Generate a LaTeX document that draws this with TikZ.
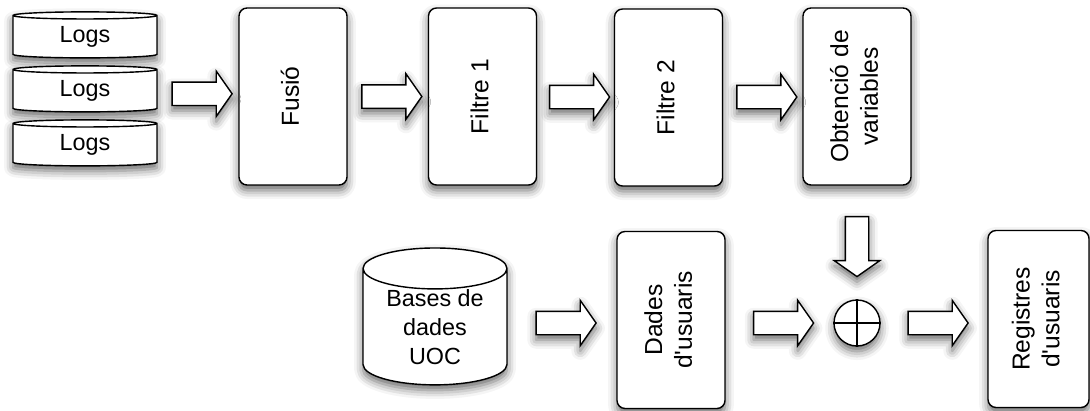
\documentclass[tikz,border=0pt]{standalone}
\usepackage{fontspec}
\setmainfont{Liberation Sans}
\usetikzlibrary{shapes.geometric, shapes.arrows, shadows.blur, calc}

% rotated (bottom to top) text inside a box
\newcommand{\vtext}[1]{\rotatebox{90}{\begin{tabular}{@{}c@{}}#1\end{tabular}}}

\tikzset{
    soft/.style={blur shadow={shadow xshift=0pt, shadow yshift=-3pt, shadow blur radius=5pt, shadow opacity=60}},
    stage/.style={draw, thick, fill=white, rounded corners=0.16cm, minimum width=2.16cm, minimum height=3.54cm, inner sep=0pt, soft},
    disk/.style={cylinder, shape border rotate=90, draw, thick, fill=white, aspect=0.14, minimum width=2.88cm, minimum height=0.92cm, inner sep=0pt, font=\fontsize{13.3}{16.4}\selectfont, soft},
    flow/.style={single arrow, draw, thick, fill=white, minimum height=1.2cm, text width=0.44cm, text height=0.22cm, text depth=0.22cm, single arrow head extend=0.22cm, single arrow tip angle=110, inner sep=0pt, soft},
}

\begin{document}
\begin{tikzpicture}[x=0.02cm, y=-0.02cm, font=\fontsize{14}{17}\selectfont]
    \useasboundingbox (0, 0) rectangle (1090, 410);

    % Logs
    \node[disk] (logsA) at (85, 37) {Logs};
    \node[disk] (logsB) at (85, 91) {Logs};
    \node[disk] (logsC) at (85, 145) {Logs};

    % Top row
    \node[stage] (fusio) at (293, 96.5) {\vtext{Fusió}};
    \node[stage] (filtreA) at (482.5, 96.5) {\vtext{Filtre 1}};
    \node[stage] (filtreB) at (668.5, 97.5) {\vtext{Filtre 2}};
    \node[stage] (obtencio) at (857, 96.5) {\vtext{Obtenció de\\variables}};

    % Bottom row
    \node[disk, aspect=0.42, minimum height=2.7cm, align=center] (bases) at (435, 327) {Bases de\\dades\\UOC};
    \node[stage] (dades) at (671, 320) {\vtext{Dades\\d\textquotesingle usuaris}};
    \node[draw, thick, circle, fill=white, minimum size=0.92cm, inner sep=0pt, soft] (plus) at (857, 323) {};
    \draw[thick] (plus.north) -- (plus.south) (plus.west) -- (plus.east);
    \node[stage, minimum width=2.02cm] (registres) at (1038.5, 319) {\vtext{Registres\\d\textquotesingle usuaris}};

    % Block arrows
    \node[flow] (toFusio) at ($(logsB.east)!0.5!(fusio.west)$) {};
    \node[flow] (toFiltreA) at ($(fusio.east)!0.5!(filtreA.west)$) {};
    \node[flow] (toFiltreB) at ($(filtreA.east)!0.5!(filtreB.west)$) {};
    \node[flow] (toObtencio) at ($(filtreB.east)!0.5!(obtencio.west)$) {};
    \node[flow, shape border rotate=270] (toPlusTop) at ($(obtencio.south)!0.5!(plus.north)$) {};
    \node[flow] (toDades) at ($(bases.east |- plus.west)!0.5!(dades.west |- plus.west)$) {};
    \node[flow] (toPlus) at ($(dades.east |- plus.west)!0.5!(plus.west)$) {};
    \node[flow] (toRegistres) at ($(plus.east)!0.5!(registres.west |- plus.east)$) {};
\end{tikzpicture}
\end{document}
